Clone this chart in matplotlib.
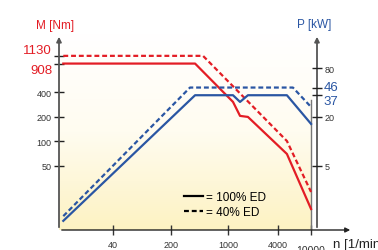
import numpy as np
import matplotlib.pyplot as plt
from matplotlib.colors import LinearSegmentedColormap

plt.rcParams['font.family'] = ['Liberation Sans Narrow', 'Liberation Sans', 'DejaVu Sans']

# torque curves (left axis, Nm)
n_m100 = [10, 394, 1135, 1380, 1720, 5100, 10000]
m100 = [908, 908, 306, 206, 200, 70, 14.7]
n_m40 = [10, 492, 5100, 10000]
m40 = [1130, 1130, 101, 23.8]

# power curves (right axis, kW)
n_p100 = [10, 394, 1135, 1380, 1720, 5100, 10000]
p100 = [1.05, 37, 37, 30.6, 37, 37, 16.4]
n_p40 = [10, 342, 6030, 10000]
p40 = [1.2, 46, 46, 26.5]

x_ticks = [40, 200, 1000, 4000]
m_ticks = [1130, 908, 400, 200, 100, 50]
p_ticks = [80, 46, 37, 20, 5]
m_hi = {1130: 4, 908: -4.5}   # value -> vertical label offset (pt)
p_hi = {46: 0.5, 37: -4.5}

red = '#e31d25'
blue = '#2a56a3'
grey = '#555555'

fig = plt.figure(figsize=(3.78, 2.51), dpi=100)
ax = fig.add_axes([59/378, 1-231/251, (317-59)/378, (231-35)/251])
ax.set_xscale('log')
ax.set_yscale('log')
ax.set_xlim(8.87, 11800)
ax.set_ylim(8.1, 2100)
ax.patch.set_alpha(0)

# background gradient
cmap = LinearSegmentedColormap.from_list('bg', ['#fdf2c2', '#fffcf0', '#ffffff'])
grad = np.linspace(0, 1, 256).reshape(-1, 1)
ax.imshow(grad, cmap=cmap, aspect='auto', origin='lower',
          extent=[0, (312-59)/(317-59), 0, 1], transform=ax.transAxes, zorder=0)

ax2 = ax.twinx()
ax2.set_yscale('log')
ax2.set_ylim(0.81, 210)

ax.plot(n_m100, m100, color=red, lw=1.6, zorder=3)
ax.plot(n_m40, m40, color=red, lw=1.6, ls=(0, (2.2, 1.3)), zorder=3)
ax2.plot(n_p100, p100, color=blue, lw=1.6, zorder=3)
ax2.plot(n_p40, p40, color=blue, lw=1.6, ls=(0, (2.2, 1.3)), zorder=3)

# vertical line at max speed
ax.plot([10000, 10000], [8.1, 324], color='#777777', lw=1.0, zorder=2)

for a in (ax, ax2):
    for s in a.spines.values():
        s.set_visible(False)

# axis arrows
arr = dict(arrowstyle='-|>', color=grey, lw=1.3, mutation_scale=7)
ax.annotate('', xy=(0, 1.0), xytext=(0, 0), xycoords='axes fraction', arrowprops=arr)
ax.annotate('', xy=(1, 1.0), xytext=(1, 0), xycoords='axes fraction', arrowprops=arr)
ax.annotate('', xy=((353-59)/(317-59), 0), xytext=(0, 0), xycoords='axes fraction',
            arrowprops=dict(arrowstyle='-|>', color='#222222', lw=1.0, mutation_scale=7))

ax.set_xticks(x_ticks + [10000])
ax.set_xticklabels([str(t) for t in x_ticks] + [''])
ax.xaxis.set_minor_locator(plt.NullLocator())
ax.tick_params(axis='x', direction='inout', length=7, width=1, pad=4,
               labelsize=6.5, labelcolor='#333333', color='#333333')
ax.text(10000, -0.075, '10000', transform=ax.get_xaxis_transform(),
        ha='center', va='top', fontsize=7.5, color='#333333')
ax.text(333/378, 1-245/251, 'n [1/min]', transform=fig.transFigure,
        ha='left', va='center', fontsize=9.5, color='#222222')

ax.set_yticks(m_ticks)
ax.set_yticklabels(['' if t in m_hi else str(t) for t in m_ticks])
ax.yaxis.set_minor_locator(plt.NullLocator())
ax.tick_params(axis='y', direction='inout', length=7, width=1, pad=2,
               labelsize=6.5, labelcolor='#333333', color='#222222')
for t, dy in m_hi.items():
    ax.annotate(str(t), xy=(0, t), xycoords=('axes fraction', 'data'),
                xytext=(-5, dy), textcoords='offset points', ha='right', va='center',
                fontsize=9.5, color=red)

ax2.set_yticks(p_ticks)
ax2.set_yticklabels(['' if t in p_hi else str(t) for t in p_ticks])
ax2.yaxis.set_minor_locator(plt.NullLocator())
ax2.tick_params(axis='y', direction='inout', length=7, width=1, pad=2,
                labelsize=6.5, labelcolor='#333333', color='#222222')
for t, dy in p_hi.items():
    ax2.annotate(str(t), xy=(1, t), xycoords=('axes fraction', 'data'),
                 xytext=(5, dy), textcoords='offset points', ha='left', va='center',
                 fontsize=9.5, color=blue)

fig.text(55/378, 1-26/251, 'M [Nm]', ha='center', va='center', fontsize=8.5, color=red)
fig.text(314/378, 1-25/251, 'P [kW]', ha='center', va='center', fontsize=8.5, color=blue)

# legend
ax.plot([], [], color='black', lw=1.6, label='= 100% ED')
ax.plot([], [], color='black', lw=1.6, ls=(0, (2.2, 1.3)), label='= 40% ED')
ax.legend(loc='upper left', bbox_to_anchor=((178-59)/(317-59), 1-(186-35)/196),
          frameon=False, fontsize=8.5, handlelength=1.6, handletextpad=0.3,
          labelspacing=0.25, borderpad=0)

fig.savefig('out.png', dpi=100)
